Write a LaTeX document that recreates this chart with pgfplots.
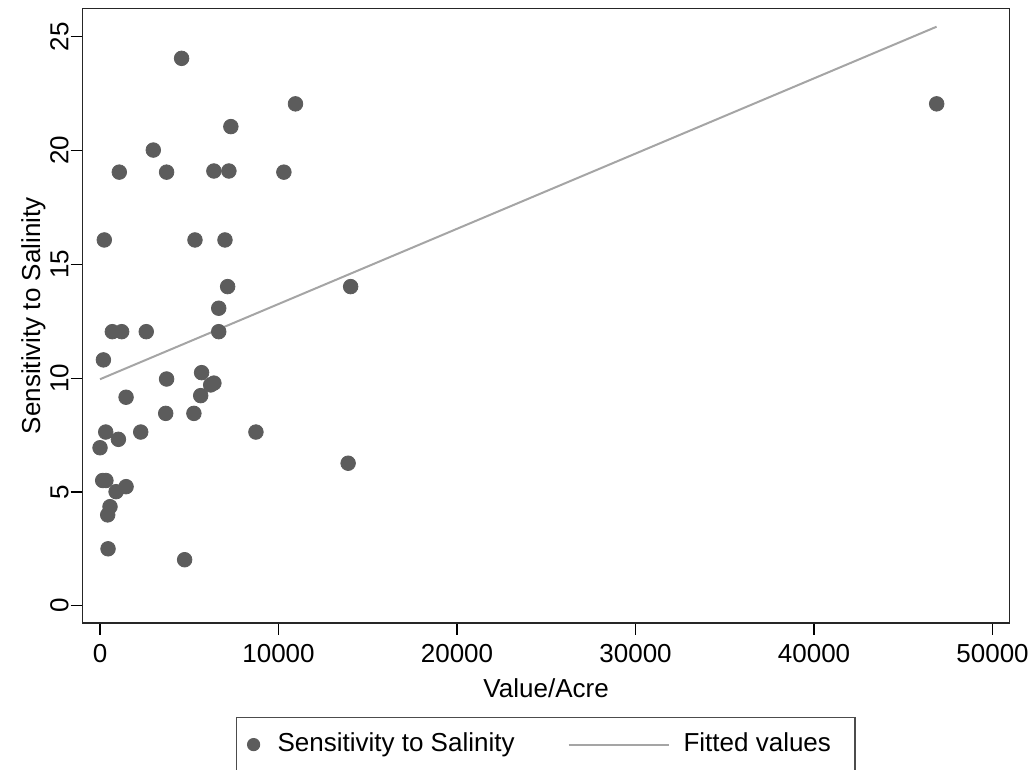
\documentclass[border=0pt]{standalone}
\usepackage{fontspec}
\setmainfont{Liberation Sans}
\usepackage{pgfplots}
\pgfplotsset{compat=1.18}
\definecolor{dotc}{RGB}{92,92,92}
\definecolor{linec}{RGB}{165,165,165}
\begin{document}
\begin{tikzpicture}
\useasboundingbox (-41.35pt,-73.5pt) rectangle (476.15pt,311.5pt);
\begin{axis}[
  scale only axis,
  width=463.4pt, height=307.25pt,
  xmin=-970, xmax=50950, ymin=-0.76, ymax=26.24,
  xtick={0,10000,20000,30000,40000,50000},
  ytick={0,5,10,15,20,25},
  scaled x ticks=false,
  /pgf/number format/assume math mode=true,
  /pgf/number format/set thousands separator={},
  font=\fontsize{13}{15.6}\selectfont,
  tick align=outside,
  major tick length=6pt,
  xtick pos=left, ytick pos=left,
  tick style={black, line width=0.6pt},
  axis line style={black!85, line width=0.8pt},
  yticklabel style={rotate=90, anchor=south, inner sep=0.8pt},
  xticklabel style={yshift=-1pt},
  xlabel={Value/Acre},
  ylabel={Sensitivity to Salinity},
  xlabel shift=1pt,
  ylabel shift=-2pt,
  legend columns=2,
  legend style={at={(0.1654,0)}, anchor=north west, yshift=-47pt,
    draw=black!70, line width=0.6pt,
    inner xsep=0pt, inner ysep=7.5pt,
    nodes={inner sep=0pt, text height=9.5pt, text depth=2.5pt, anchor=west},
    /tikz/every even column/.append style={column sep=26.5pt}},
]
\addplot[only marks, mark=*, mark size=3.65pt, color=dotc,
  legend image code/.code={\path[draw=none,fill=none] (0pt,-4pt) rectangle (20.5pt,4pt);
    \fill[dotc] (8.5pt,0pt) circle (3pt);}]
coordinates {
(4570,24.05) (10950,22.05) (46870,22.05) (7330,21.05) (2985,20.02)
(1080,19.05) (3730,19.05) (6380,19.1) (7220,19.1) (10300,19.05)
(240,16.07) (5320,16.07) (7000,16.07) (7150,14.02) (14040,14.02)
(6650,13.07) (690,12.04) (1213,12.04) (2590,12.04) (6650,12.04)
(190,10.8) (3730,9.96) (5690,10.24) (6200,9.7) (6380,9.78)
(1460,9.16) (5640,9.23) (3680,8.45) (5260,8.45) (320,7.63)
(2280,7.63) (8735,7.63) (1030,7.31) (0,6.94) (13900,6.26)
(150,5.5) (330,5.5) (1460,5.23) (900,5.01) (560,4.35)
(430,3.99) (450,2.5) (4740,2.02)
};
\addlegendentry{Sensitivity to Salinity}
\addplot[no marks, color=linec, line width=1pt,
  legend image code/.code={\path[draw=none,fill=none] (0pt,-4pt) rectangle (57.5pt,4pt);
    \draw[linec, line width=1pt] (0pt,0pt) -- (50pt,0pt);}]
coordinates {(0,9.95) (46866,25.44)};
\addlegendentry{Fitted values\rule{12pt}{0pt}}
\end{axis}
\end{tikzpicture}
\end{document}
